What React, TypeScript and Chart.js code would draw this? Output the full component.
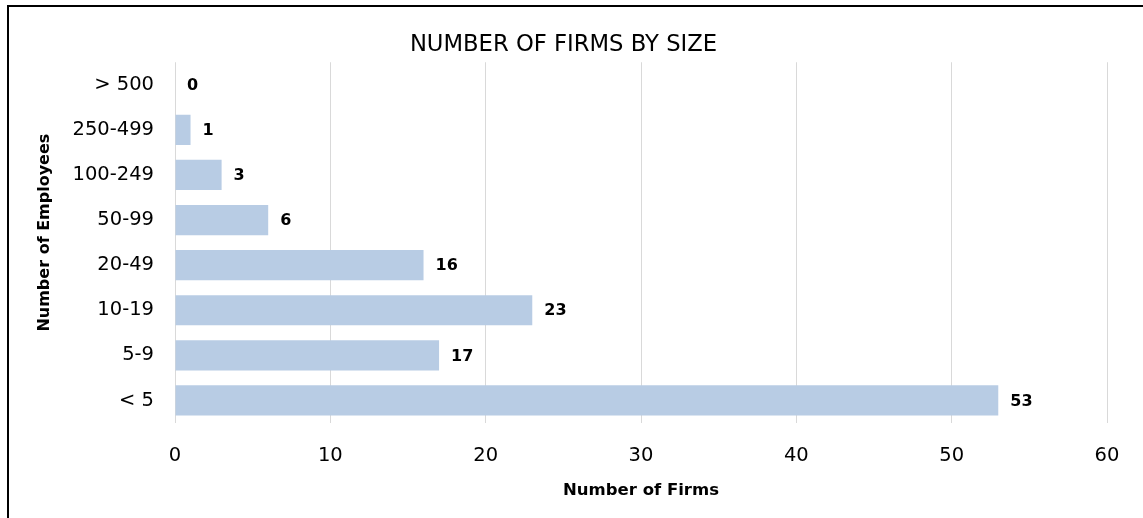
import React, { useEffect, useRef } from "react";
import { Chart, registerables } from "chart.js";

Chart.register(...registerables);

const categories = ["> 500", "250-499", "100-249", "50-99", "20-49", "10-19", "5-9", "< 5"];
const firms = [0, 1, 3, 6, 16, 23, 17, 53];
const xTicksMax = 60;
const chartTitle = "NUMBER OF FIRMS BY SIZE";
const xTitle = "Number of Firms";
const yTitle = "Number of Employees";

const FONT = "'DejaVu Sans', sans-serif";

const frameAndLabels = {
  id: "frameAndLabels",
  afterDraw(chart: any) {
    const ctx = chart.ctx;
    ctx.save();
    ctx.fillStyle = "#000";
    ctx.fillRect(7, 5, 1143, 2);
    ctx.fillRect(7, 5, 2, 518);
    // y-axis title
    ctx.save();
    ctx.translate(45, chart.chartArea.top + (chart.chartArea.bottom - chart.chartArea.top) / 2 - 10);
    ctx.rotate(-Math.PI / 2);
    ctx.font = `bold 16px ${FONT}`;
    ctx.textAlign = "center";
    ctx.textBaseline = "middle";
    ctx.fillText(yTitle, 0, 0);
    ctx.restore();
    // data labels
    const meta = chart.getDatasetMeta(0);
    ctx.font = `bold 16px ${FONT}`;
    ctx.textAlign = "left";
    ctx.textBaseline = "middle";
    ctx.fillStyle = "#000";
    meta.data.forEach((bar: any, i: number) => {
      ctx.fillText(String(firms[i]), bar.x + 12, bar.y + 1);
    });
    ctx.restore();
  },
};

export default function App() {
  const ref = useRef<HTMLCanvasElement>(null);
  useEffect(() => {
    if (!ref.current) return;
    const chart = new Chart(ref.current, {
      type: "bar",
      data: {
        labels: categories,
        datasets: [
          {
            data: firms,
            backgroundColor: "#b8cce4",
            categoryPercentage: 1,
            barPercentage: 0.67,
          },
        ],
      },
      options: {
        indexAxis: "y",
        animation: false,
        responsive: false,
        maintainAspectRatio: false,
        layout: { padding: { left: 20, right: 36, top: 0, bottom: 0 } },
        plugins: {
          legend: { display: false },
          tooltip: { enabled: false },
          title: {
            display: true,
            text: chartTitle,
            color: "#000",
            font: { family: FONT, size: 22.7, weight: "normal" },
            padding: { top: 31, bottom: 4 },
          },
        },
        scales: {
          x: {
            min: 0,
            max: xTicksMax,
            ticks: {
              stepSize: 10,
              color: "#000",
              font: { family: FONT, size: 19.5 },
              padding: 21,
            },
            grid: { color: "#d9d9d9", drawTicks: false, lineWidth: 1 },
            border: { display: false },
            title: {
              display: true,
              text: xTitle,
              color: "#000",
              font: { family: FONT, size: 16.5, weight: "bold" },
              padding: { top: 0, bottom: 17 },
            },
            afterFit(scale: any) {
              scale.height = 95;
            },
          },
          y: {
            ticks: {
              color: "#000",
              font: { family: FONT, size: 19.5 },
              padding: 21,
            },
            grid: { display: false, drawTicks: false },
            border: { display: false },
            title: { display: false, text: yTitle },
            afterFit(scale: any) {
              scale.width = 155;
            },
          },
        },
      },
      plugins: [frameAndLabels],
    } as any);
    return () => chart.destroy();
  }, []);
  return (
    <div style={{ position: "fixed", left: 0, top: 0, width: 1143, height: 518, background: "#fff" }}>
      <canvas ref={ref} width={1143} height={518} style={{ display: "block" }} />
    </div>
  );
}
